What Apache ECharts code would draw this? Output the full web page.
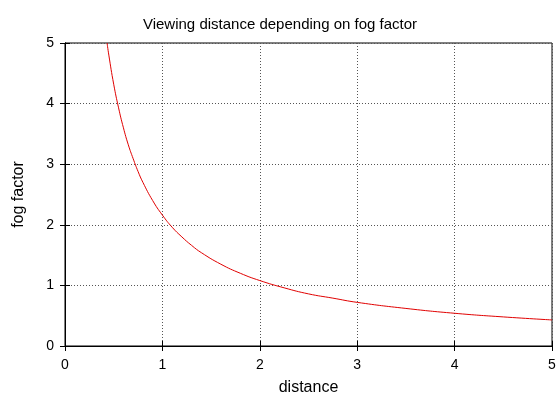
<!DOCTYPE html>
<html><head><meta charset="utf-8">
<script src="https://cdn.jsdelivr.net/npm/echarts@6/dist/echarts.min.js"></script>
<style>html,body{margin:0;padding:0;background:#fff}#c{width:560px;height:393px}</style>
</head><body><div id="c"></div>
<script>
var distance = [0.432,0.45,0.5,0.55,0.6,0.65,0.7,0.75,0.8,0.9,1.0,1.1,1.2,1.3,1.4,1.6,1.8,2.0,2.25,2.5,2.75,3.0,3.5,4.0,4.5,5.0];
var fogFactor = [5.0,4.80,4.32,3.93,3.60,3.32,3.09,2.88,2.70,2.40,2.16,1.96,1.80,1.66,1.54,1.35,1.20,1.08,0.96,0.86,0.79,0.72,0.62,0.54,0.48,0.43];
var xTicks = [0,1,2,3,4,5];
var yTicks = [0,1,2,3,4,5];
var points = distance.map(function(d,i){return [d, fogFactor[i]];});
var font = 'Liberation Sans, Arial, sans-serif';
var chart = echarts.init(document.getElementById('c'), null, {renderer:'canvas'});
var splitStyle = {show:true, lineStyle:{color:'#555', type:[1,2], width:1}};
chart.setOption({
  animation:false,
  backgroundColor:'#fff',
  title:{text:'Viewing distance depending on fog factor', left:'center', top:12,
    textStyle:{fontFamily:font, fontSize:15, fontWeight:'normal', color:'#000'}},
  grid:{left:65, right:8, top:43, bottom:47, show:true, borderColor:'#000', borderWidth:1, backgroundColor:'transparent', containLabel:false, outerBoundsMode:'none'},
  xAxis:[{type:'value', min:xTicks[0], max:xTicks[xTicks.length-1], interval:1,
    name:'distance', nameLocation:'middle', nameGap:34,
    nameTextStyle:{fontFamily:font, fontSize:16, color:'#000'},
    axisLine:{show:true, lineStyle:{color:'#000'}},
    axisTick:{show:true, inside:true, length:5, lineStyle:{color:'#000'}},
    axisLabel:{fontFamily:font, fontSize:14, color:'#000', margin:12},
    splitLine:splitStyle},
    {type:'value', position:'top', min:0, max:5, interval:1,
    axisLine:{show:true, lineStyle:{color:'#000'}},
    axisTick:{show:true, inside:true, length:5, lineStyle:{color:'#000'}},
    axisLabel:{show:false}, splitLine:{show:false}}],
  yAxis:[{type:'value', min:yTicks[0], max:yTicks[yTicks.length-1], interval:1,
    name:'fog factor', nameLocation:'middle', nameGap:38, nameRotate:90,
    nameTextStyle:{fontFamily:font, fontSize:16, color:'#000'},
    axisLine:{show:true, lineStyle:{color:'#000'}},
    axisTick:{show:true, inside:true, length:5, lineStyle:{color:'#000'}},
    axisLabel:{fontFamily:font, fontSize:14, color:'#000', margin:11},
    splitLine:splitStyle},
    {type:'value', position:'right', min:0, max:5, interval:1,
    axisLine:{show:true, lineStyle:{color:'#000'}},
    axisTick:{show:true, inside:true, length:5, lineStyle:{color:'#000'}},
    axisLabel:{show:false}, splitLine:{show:false}}],
  series:[{type:'line', data:points, smooth:true, showSymbol:false,
    lineStyle:{color:'#e00000', width:1}, clip:true}]
});
</script></body></html>
